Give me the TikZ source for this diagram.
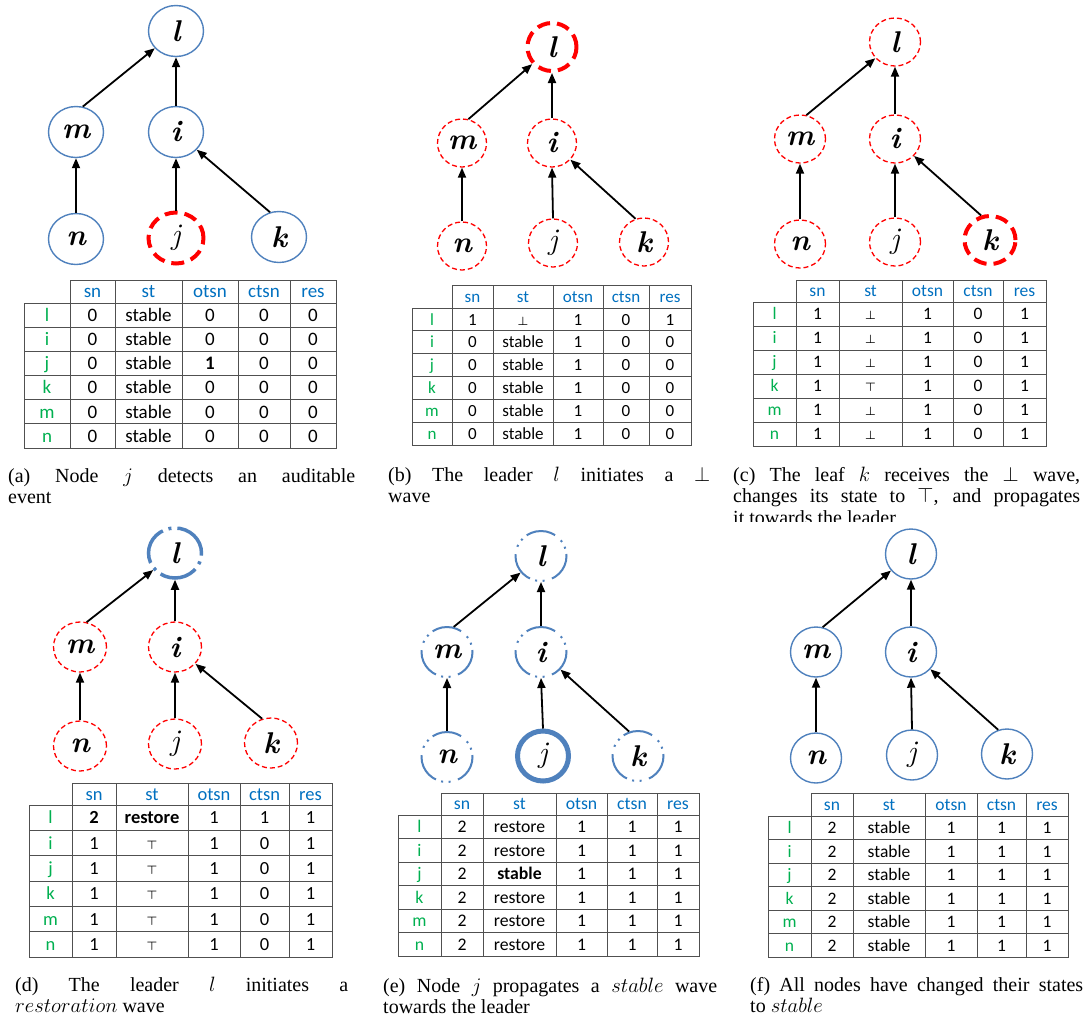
\documentclass[tikz,border=0pt]{standalone}
\usepackage{fontspec}
\usetikzlibrary{shapes.geometric,arrows.meta}
\newfontfamily\capfont{Liberation Serif}
\newfontfamily\cellfont{Carlito}
\definecolor{nodeblue}{RGB}{79,129,189}
\definecolor{headblue}{RGB}{0,112,192}
\definecolor{labgreen}{RGB}{0,176,80}
\definecolor{gridgray}{RGB}{80,80,80}

\tikzset{
  tnode/.style={ellipse, inner sep=0pt, font=\fontsize{30}{30}\selectfont\bfseries\itshape},
  solidnode/.style={tnode, draw=nodeblue, line width=1.4pt},
  rdash/.style={tnode, draw=red, line width=1.3pt, dash pattern=on 5pt off 3pt},
  rthick/.style={tnode, draw=red, line width=4pt, dash pattern=on 13pt off 7pt},
  bthick/.style={tnode, draw=nodeblue, line width=5pt},
  bdashdot/.style={tnode, draw=nodeblue, line width=3.5pt, dash pattern=on 38pt off 6pt on 3pt off 6pt},
  bdashdotdot/.style={tnode, draw=nodeblue, line width=2pt,
    dash pattern=on 30pt off 5.5pt on 2pt off 5.5pt on 2pt off 7.7pt, dash phase=28pt},
  treearrow/.style={draw=black, line width=1.8pt, -{Triangle[length=10pt,width=8pt]}},
  gridline/.style={draw=gridgray, line width=1pt},
  headtxt/.style={inner sep=0pt, anchor=base, text=headblue, font=\cellfont\cellsize},
  labtxt/.style={inner sep=0pt, anchor=base, text=labgreen, font=\cellfont\cellsize},
  celltxt/.style={inner sep=0pt, anchor=base, text=black, font=\cellfont\cellsize},
  captext/.style={anchor=base west, inner sep=0pt, align=justify,
    font=\capfont\fontsize{20}{21.8}\selectfont},
}

% symbols used in the state column
\newcommand\tbot{{\boldmath$\scriptstyle\bot$}}
\newcommand\ttop{{\boldmath$\scriptstyle\top$}}

% arrows of the spanning tree, child -> parent
\newcommand\treeedges[1]{%
  \draw[treearrow] (#1m.75) -- (#1l);
  \draw[treearrow] (#1i.north) -- (#1l.south);
  \draw[treearrow] (#1n.north) -- (#1m.south);
  \draw[treearrow] (#1j.north) -- (#1i.south);
  \draw[treearrow] (#1k.110) -- (#1i);
}

\def\setcols#1,#2,#3,#4,#5,#6,#7\relax{\def\colL{#1}\def\colA{#2}\def\colB{#3}\def\colC{#4}\def\colD{#5}\def\colE{#6}\def\colF{#7}}
\def\setrows#1,#2,#3\relax{\def\rowT{#1}\def\rowH{#2}\def\rowB{#3}}

% state table: #1 name prefix, #2 column edges, #3 header top/header bottom/bottom,
% #4 font size, #5 rows label/sn/st/otsn/ctsn/res
\newcommand\statetable[5]{%
  \setcols#2\relax
  \setrows#3\relax
  \pgfmathsetmacro\tabrh{(\rowB-\rowH)/6}%
  \def\cellsize{\fontsize{#4}{#4}\selectfont}%
  \draw[gridline] (\colA,\rowT) rectangle (\colF,\rowB);
  \draw[gridline] (\colL,\rowH) rectangle (\colF,\rowB);
  \foreach \colx in {\colB,\colC,\colD,\colE} {\draw[gridline] (\colx,\rowT) -- (\colx,\rowB);}
  \foreach \kk in {1,...,5} {\draw[gridline] (\colL,{\rowH+\kk*\tabrh}) -- (\colF,{\rowH+\kk*\tabrh});}
  \pgfmathsetmacro\hb{(\rowT+\rowH)/2+0.33*#4}%
  \node[headtxt] (#1-h1) at ({(\colA+\colB)/2},\hb) {sn};
  \node[headtxt] (#1-h2) at ({(\colB+\colC)/2},\hb) {st};
  \node[headtxt] (#1-h3) at ({(\colC+\colD)/2},\hb) {otsn};
  \node[headtxt] (#1-h4) at ({(\colD+\colE)/2},\hb) {ctsn};
  \node[headtxt] (#1-h5) at ({(\colE+\colF)/2},\hb) {res};
  \foreach \lab/\va/\vb/\vc/\vd/\ve [count=\rowi] in {#5} {%
    \pgfmathsetmacro\yb{\rowH+(\rowi-0.5)*\tabrh+0.33*#4}%
    \node[labtxt]  (#1-\rowi-0) at ({(\colL+\colA)/2},\yb) {\lab};
    \node[celltxt] (#1-\rowi-1) at ({(\colA+\colB)/2},\yb) {\va};
    \node[celltxt] (#1-\rowi-2) at ({(\colB+\colC)/2},\yb) {\vb};
    \node[celltxt] (#1-\rowi-3) at ({(\colC+\colD)/2},\yb) {\vc};
    \node[celltxt] (#1-\rowi-4) at ({(\colD+\colE)/2},\yb) {\vd};
    \node[celltxt] (#1-\rowi-5) at ({(\colE+\colF)/2},\yb) {\ve};
  }%
}

\begin{document}
\begin{tikzpicture}[x=1pt,y=-1pt]
\fill[white] (0,0) rectangle (1089,1020);
\useasboundingbox (0,0) rectangle (1089,1020);

% ---------- (a) ----------
\begin{scope}[tnode/.append style={minimum width=55pt, minimum height=51pt}]
\node[solidnode] (al) at (176,31) {l};
\node[solidnode] (am) at (76,132) {m};
\node[solidnode] (ai) at (176,132) {i};
\node[solidnode] (an) at (76,239) {n};
\node[rthick]    (aj) at (176,238) {\mdseries j};
\node[solidnode] (ak) at (279,237) {k};
\treeedges{a}
\end{scope}
\statetable{ta}{24,70,115,182,238,290,336}{280,303,448}{19}{%
  l/0/stable/0/0/0, i/0/stable/0/0/0, j/0/stable/\textbf{1}/0/0,
  k/0/stable/0/0/0, m/0/stable/0/0/0, n/0/stable/0/0/0}
\node[captext, text width=347pt] (capa) at (8,482)
  {(a) Node $j$ detects an auditable\linebreak event};

% ---------- (b) ----------
\begin{scope}[tnode/.append style={minimum width=49pt, minimum height=48pt}]
\node[rthick] (bl) at (552,47) {l};
\node[rdash]  (bm) at (462,143) {m};
\node[rdash]  (bi) at (552,143) {i};
\node[rdash]  (bn) at (462,246) {n};
\node[rdash]  (bj) at (553,243) {\mdseries j};
\node[rdash]  (bk) at (644,242) {k};
\treeedges{b}
\end{scope}
\statetable{tb}{412,452,493,553,603,649,691}{285,308,445}{17}{%
  l/1/\tbot/1/0/1, i/0/stable/1/0/0, j/0/stable/1/0/0,
  k/0/stable/1/0/0, m/0/stable/1/0/0, n/0/stable/1/0/0}
\node[captext, text width=322pt] (capb) at (388,481)
  {(b) The leader $l$ initiates a $\bot$\linebreak wave};

% ---------- (c) ----------
\begin{scope}[tnode/.append style={minimum width=51pt, minimum height=48pt}]
\node[rdash]  (cl) at (895,42) {l};
\node[rdash]  (cm) at (800,139) {m};
\node[rdash]  (ci) at (895,139) {i};
\node[rdash]  (cn) at (800,244) {n};
\node[rdash]  (cj) at (895,242) {\mdseries j};
\node[rthick] (ck) at (990,240) {k};
\treeedges{c}
\end{scope}
\statetable{tc}{753,796,839,902,953,1003,1046}{280,302,446}{17.5}{%
  l/1/\tbot/1/0/1, i/1/\tbot/1/0/1, j/1/\tbot/1/0/1,
  k/1/\ttop/1/0/1, m/1/\tbot/1/0/1, n/1/\tbot/1/0/1}
\begin{scope}
\clip (725,440) rectangle (1089,521);
\node[captext, text width=347pt] (capc) at (733,481)
  {(c) The leaf $k$ receives the $\bot$ wave,\linebreak changes its state to $\top$, and propagates\linebreak it towards the leader};
\end{scope}

% ---------- (d) ----------
\begin{scope}[tnode/.append style={minimum width=53pt, minimum height=50pt}]
\node[bdashdot] (dl) at (175,553) {l};
\node[rdash]    (dm) at (80,647) {m};
\node[rdash]    (di) at (175,647) {i};
\node[rdash]    (dn) at (80,746) {n};
\node[rdash]    (dj) at (175,744) {\mdseries j};
\node[rdash]    (dk) at (271,743) {k};
\treeedges{d}
\end{scope}
\statetable{td}{29,72,116,188,240,289,332}{783,805,957}{18.5}{%
  l/\textbf{2}/\textbf{restore}/1/1/1, i/1/\ttop/1/0/1, j/1/\ttop/1/0/1,
  k/1/\ttop/1/0/1, m/1/\ttop/1/0/1, n/1/\ttop/1/0/1}
\node[captext, text width=333pt] (capd) at (15,991)
  {(d) The leader $l$ initiates a\linebreak $restoration$ wave};

% ---------- (e) ----------
\begin{scope}[tnode/.append style={minimum width=51pt, minimum height=50pt}]
\node[bdashdotdot] (el) at (541,556) {l};
\node[bdashdotdot] (em) at (447,652) {m};
\node[bdashdotdot] (ei) at (541,652) {i};
\node[bdashdotdot] (en) at (447,757) {n};
\node[bthick]      (ej) at (543,756) {\mdseries j};
\node[bdashdotdot] (ek) at (638,756) {k};
\treeedges{e}
\end{scope}
\statetable{te}{398,441,483,556,607,657,699}{793,815,956}{17.7}{%
  l/2/restore/1/1/1, i/2/restore/1/1/1, j/2/\textbf{stable}/1/1/1,
  k/2/restore/1/1/1, m/2/restore/1/1/1, n/2/restore/1/1/1}
\node[captext, text width=334pt] (cape) at (383,992)
  {(e) Node $j$ propagates a $stable$ wave\linebreak towards the leader};

% ---------- (f) ----------
\begin{scope}[tnode/.append style={minimum width=51pt, minimum height=50pt}]
\node[solidnode] (fl) at (911,554) {l};
\node[solidnode] (fm) at (816,652) {m};
\node[solidnode] (fi) at (911,652) {i};
\node[solidnode] (fn) at (816,758) {n};
\node[solidnode] (fj) at (912,755) {\mdseries j};
\node[solidnode] (fk) at (1007,754) {k};
\treeedges{f}
\end{scope}
\statetable{tf}{768,811,853,925,977,1026,1068}{793,816,957}{17.5}{%
  l/2/stable/1/1/1, i/2/stable/1/1/1, j/2/stable/1/1/1,
  k/2/stable/1/1/1, m/2/stable/1/1/1, n/2/stable/1/1/1}
\node[captext, text width=333pt] (capf) at (750,991)
  {(f) All nodes have changed their states\linebreak to $stable$};
\end{tikzpicture}
\end{document}
